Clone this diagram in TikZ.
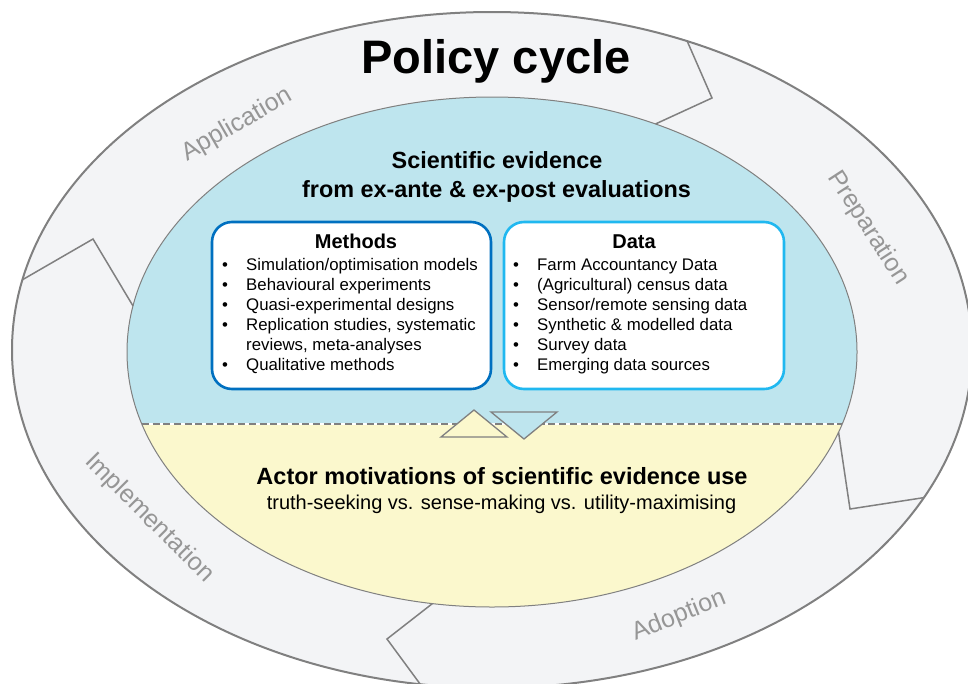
\documentclass[tikz,border=0pt]{standalone}
\usepackage{fontspec}
\setmainfont{Liberation Sans}
\usetikzlibrary{calc}
\definecolor{ringfill}{RGB}{243,244,246}
\definecolor{ringline}{RGB}{128,128,128}
\definecolor{bluefill}{RGB}{190,229,238}
\definecolor{yellowfill}{RGB}{251,248,205}
\definecolor{methblue}{RGB}{0,112,192}
\definecolor{datablue}{RGB}{32,184,240}
\definecolor{labelgrey}{RGB}{150,150,150}
\begin{document}
\begin{tikzpicture}[x=1pt,y=-1pt,
  ringlabel/.style={text=labelgrey, font=\fontsize{25}{30}\selectfont, inner sep=0pt, anchor=center},
  chevron/.style={draw=ringline, line width=1.5pt, line join=miter},
  tri/.style={draw=ringline, line width=1.3pt, line join=miter},
  evbox/.style={line width=2.6pt, fill=white, rounded corners=20pt},
  item/.style={anchor=base west, inner sep=0pt, font=\fontsize{16.8}{20}\selectfont},
  bul/.style={anchor=base, inner sep=0pt, font=\fontsize{16.8}{20}\selectfont},
  boxtitle/.style={anchor=base, inner sep=0pt, font=\bfseries\fontsize{20}{24}\selectfont},
  head/.style={anchor=base, inner sep=0pt, font=\bfseries\fontsize{23.4}{28}\selectfont},
  ]
\useasboundingbox (0,0) rectangle (968,683);
\clip (0,0) rectangle (968,683);
\coordinate (oc) at (492,350);
\coordinate (ic) at (492,352);
% outer ring
\path[fill=ringfill, draw=ringline, line width=2pt] (oc) ellipse [x radius=480pt, y radius=338pt];
% inner ellipse: yellow lower part, blue upper part
\path[fill=yellowfill] (ic) ellipse [x radius=365pt, y radius=255pt];
\begin{scope}
  \clip (0,0) rectangle (968,424);
  \path[fill=bluefill] (ic) ellipse [x radius=365pt, y radius=255pt];
\end{scope}
\draw[ringline, line width=1pt] (ic) ellipse [x radius=365pt, y radius=255pt];
% chevron boundaries of the ring segments
\coordinate (o1) at ($(oc)+(66:480pt and 338pt)$);
\coordinate (p1) at (712,98);
\coordinate (i1) at ($(ic)+(63.4:365pt and 255pt)$);
\coordinate (o2) at ($(oc)+(168:480pt and 338pt)$);
\coordinate (p2) at (93,239);
\coordinate (i2) at ($(ic)+(169.6:365pt and 255pt)$);
\coordinate (o3) at ($(oc)+(-25.9:480pt and 338pt)$);
\coordinate (p3) at (850,509);
\coordinate (i3) at ($(ic)+(-18.3:365pt and 255pt)$);
\coordinate (o4) at ($(oc)+(-98.6:480pt and 338pt)$);
\coordinate (p4) at (387,639);
\coordinate (i4) at ($(ic)+(-99.4:365pt and 255pt)$);
\draw[chevron] (o1) -- (p1) -- (i1);
\draw[chevron] (o2) -- (p2) -- (i2);
\draw[chevron] (i3) -- (p3) -- (o3);
\draw[chevron] (i4) -- (p4) -- (o4);
% dashed divider
\coordinate (dl) at ($(ic)+(196.4:365pt and 255pt)$);
\coordinate (dr) at ($(ic)+(-16.4:365pt and 255pt)$);
\draw[white, line width=2pt] (dl) -- (dr);
\draw[ringline, line width=2pt, dash pattern=on 7pt off 3.7pt] (dl) -- (dr);
% triangles
\coordinate (ua) at (474,410);
\coordinate (ub) at (441,437);
\coordinate (uc) at (507,437);
\coordinate (da) at (491,412);
\coordinate (db) at (557,412);
\coordinate (dc) at (524,439);
\draw[tri, fill=yellowfill] (ua) -- (uc) -- (ub) -- cycle;
\draw[tri, fill=bluefill] (da) -- (db) -- (dc) -- cycle;
% boxes
\draw[evbox, draw=methblue] (212,222) rectangle (491,389);
\draw[evbox, draw=datablue] (504,222) rectangle (784,389);
% title
\node[anchor=base, inner sep=0pt, font=\bfseries\fontsize{47}{56}\selectfont] (title) at (496,73) {Policy cycle};
% ring labels
\node[ringlabel, rotate=30] (lapp) at (237,125) {Application};
\node[ringlabel, rotate=-57] (lprep) at (868,228) {Preparation};
\node[ringlabel, rotate=-45] (limpl) at (149,518) {Implementation};
\node[ringlabel, rotate=22] (ladop) at (679,616) {Adoption};
% evidence heading
\node[head] (sci1) at (497,168) {Scientific evidence};
\node[head] (sci2) at (496.5,197) {from ex-ante \& ex-post evaluations};
% methods box
\node[boxtitle] (mt) at (356,248) {Methods};
\node[bul] (mb1) at (225,270) {•};
\node[item] (mi1) at (246,270) {Simulation/optimisation models};
\node[bul] (mb2) at (225,290) {•};
\node[item] (mi2) at (246,290) {Behavioural experiments};
\node[bul] (mb3) at (225,310) {•};
\node[item] (mi3) at (246,310) {Quasi-experimental designs};
\node[bul] (mb4) at (225,330) {•};
\node[item] (mi4) at (246,330) {Replication studies, systematic};
\node[item] (mi4b) at (246,350) {reviews, meta-analyses};
\node[bul] (mb5) at (225,370) {•};
\node[item] (mi5) at (246,370) {Qualitative methods};
% data box
\node[boxtitle] (dt) at (634,248) {Data};
\node[bul] (db1) at (516,270) {•};
\node[item] (di1) at (537,270) {Farm Accountancy Data};
\node[bul] (db2) at (516,290) {•};
\node[item] (di2) at (537,290) {(Agricultural) census data};
\node[bul] (db3) at (516,310) {•};
\node[item] (di3) at (537,310) {Sensor/remote sensing data};
\node[bul] (db4) at (516,330) {•};
\node[item] (di4) at (537,330) {Synthetic \& modelled data};
\node[bul] (db5) at (516,350) {•};
\node[item] (di5) at (537,350) {Survey data};
\node[bul] (db6) at (516,370) {•};
\node[item] (di6) at (537,370) {Emerging data sources};
% actor motivations
\node[head, font=\bfseries\fontsize{23.5}{28}\selectfont] (act1) at (502,484) {Actor motivations of scientific evidence use};
\node[anchor=base, inner sep=0pt, font=\fontsize{20}{24}\selectfont] (act2) at (501.5,509) {truth-seeking vs. sense-making vs. utility-maximising};
\end{tikzpicture}
\end{document}
